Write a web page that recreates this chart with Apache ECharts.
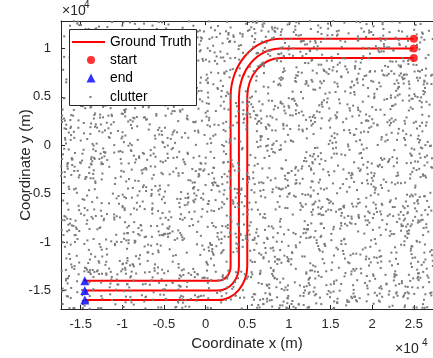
<!DOCTYPE html>
<html>
<head>
<meta charset="utf-8">
<script src="https://cdn.jsdelivr.net/npm/echarts@6/dist/echarts.min.js"></script>
<style>html,body{margin:0;padding:0;background:#fff}#c{width:433px;height:358px}</style>
</head>
<body>
<div id="c"></div>
<script>
// ---- data (metres) ----
const xTicks = [-15000, -10000, -5000, 0, 5000, 10000, 15000, 20000, 25000];
const yTicks = [-15000, -10000, -5000, 0, 5000, 10000];
const track1 = [[25000,11000],[9000,11000],[6700,10540],[4760,9240],[3460,7300],[3000,5000],[3000,-12500],[2890,-13070],[2560,-13560],[2070,-13890],[1500,-14000],[-14500,-14000]];
const track2 = [[25000,10000],[9000,10000],[7090,9620],[5460,8540],[4380,6910],[4000,5000],[4000,-12500],[3810,-13460],[3270,-14270],[2460,-14810],[1500,-15000],[-14500,-15000]];
const track3 = [[25000,9000],[9000,9000],[7470,8700],[6170,7830],[5300,6530],[5000,5000],[5000,-12500],[4730,-13840],[3970,-14970],[2840,-15730],[1500,-16000],[-14500,-16000]];
const startPts = [[25000,11000],[25000,10000],[25000,9000]];
const endPts = [[-14500,-14000],[-14500,-15000],[-14500,-16000]];
// clutter: uniform background noise texture (positions unreadable individually)
const clutter = [];
(function(){ let s = 12345; const r = () => (s = (s * 1103515245 + 12345) % 2147483648) / 2147483648;
  for (let i = 0; i < 2800; i++) clutter.push([Math.round(-17360 + r()*44660), Math.round(-16920 + r()*29750)]); })();

const axisCol = '#262626';
const font = 'Liberation Sans, Arial, Helvetica, sans-serif';
const fmt = v => String(+(v/1e4).toFixed(2));
const chart = echarts.init(document.getElementById('c'), null, {renderer:'canvas'});
const xMin = -17360, xMax = 27300, yMin = -16920, yMax = 12830;
const lineSeries = (d) => ({type:'line', name:'Ground Truth', data:d, symbol:'none', showSymbol:false, smooth:0.35, lineStyle:{color:'#ff0000', width:2}, itemStyle:{color:'#ff0000'}, z:2, silent:true});
const txt = {fontFamily:font, fontSize:13.8, color:'#000', lineHeight:14};
const legBase = {orient:'vertical', padding:0, selectedMode:false, z:5};
chart.setOption({
  animation:false,
  grid:{left:61, top:21, width:373, height:288},
  xAxis:[{type:'value', min:xMin, max:xMax, position:'bottom',
    axisLine:{show:true, onZero:false, lineStyle:{color:axisCol, width:1}},
    axisTick:{show:true, inside:true, length:4, customValues:xTicks, lineStyle:{color:axisCol}},
    axisLabel:{customValues:xTicks, formatter:fmt, margin:9, fontFamily:font, fontSize:13, color:axisCol},
    splitLine:{show:false}},
   {type:'value', min:xMin, max:xMax, position:'top',
    axisLine:{show:true, onZero:false, lineStyle:{color:axisCol, width:1}},
    axisTick:{show:true, inside:true, length:4, customValues:xTicks, lineStyle:{color:axisCol}},
    axisLabel:{show:false}, splitLine:{show:false}}],
  yAxis:[{type:'value', min:yMin, max:yMax, position:'left',
    axisLine:{show:true, onZero:false, lineStyle:{color:axisCol, width:1}},
    axisTick:{show:true, inside:true, length:4, customValues:yTicks, lineStyle:{color:axisCol}},
    axisLabel:{customValues:yTicks, formatter:fmt, margin:10, fontFamily:font, fontSize:13, color:axisCol},
    splitLine:{show:false}}],
  legend:[
    Object.assign({}, legBase, {left:72, top:35, itemWidth:33, itemHeight:2, data:[{name:'Ground Truth', icon:'rect'}], itemStyle:{color:'#ff0000'}, textStyle:txt}),
    Object.assign({}, legBase, {left:87, top:53, itemWidth:8, itemHeight:8, data:[{name:'start', icon:'circle'}], textStyle:Object.assign({}, txt, {padding:[0,0,0,10]})}),
    Object.assign({}, legBase, {left:86.5, top:71, itemWidth:9, itemHeight:9, data:[{name:'end', icon:'triangle'}], textStyle:Object.assign({}, txt, {padding:[0,0,0,9.5]})}),
    Object.assign({}, legBase, {left:89.5, top:90, itemWidth:2, itemHeight:2, data:[{name:'clutter', icon:'rect'}], textStyle:Object.assign({}, txt, {padding:[0,0,0,13.5]})})
  ],
  graphic:[
    {type:'rect', z:4, zlevel:0, shape:{x:69.5, y:29.5, width:127, height:76}, style:{fill:'#fff', stroke:'#262626', lineWidth:1}, silent:true},
    {type:'text', z:5, x:247, y:344, style:{text:'Coordinate x (m)', font:'15px '+font, fill:axisCol, align:'center', verticalAlign:'middle'}},
    {type:'text', z:5, x:26, y:165, rotation:Math.PI/2, style:{text:'Coordinate y (m)', font:'15px '+font, fill:axisCol, align:'center', verticalAlign:'middle'}},
    {type:'text', z:5, x:62, y:11, style:{text:'×10', font:'14px '+font, fill:axisCol, align:'left', verticalAlign:'middle'}},
    {type:'text', z:5, x:84, y:5, style:{text:'4', font:'10px '+font, fill:axisCol, align:'left', verticalAlign:'middle'}},
    {type:'text', z:5, x:395, y:349, style:{text:'×10', font:'14px '+font, fill:axisCol, align:'left', verticalAlign:'middle'}},
    {type:'text', z:5, x:422, y:343, style:{text:'4', font:'10px '+font, fill:axisCol, align:'left', verticalAlign:'middle'}}
  ],
  series:[
    lineSeries(track1), lineSeries(track2), lineSeries(track3),
    {type:'scatter', name:'start', data:startPts, symbol:'circle', symbolSize:8, itemStyle:{color:'#ff0000'}, z:3, silent:true},
    {type:'scatter', name:'end', data:endPts, symbol:'triangle', symbolSize:9, itemStyle:{color:'#0000ff'}, z:3, silent:true},
    {type:'scatter', name:'clutter', data:clutter, symbol:'rect', symbolSize:2, itemStyle:{color:'#7a7a7a', opacity:1}, z:2.5, silent:true, large:false}
  ]
});
</script>
</body>
</html>
